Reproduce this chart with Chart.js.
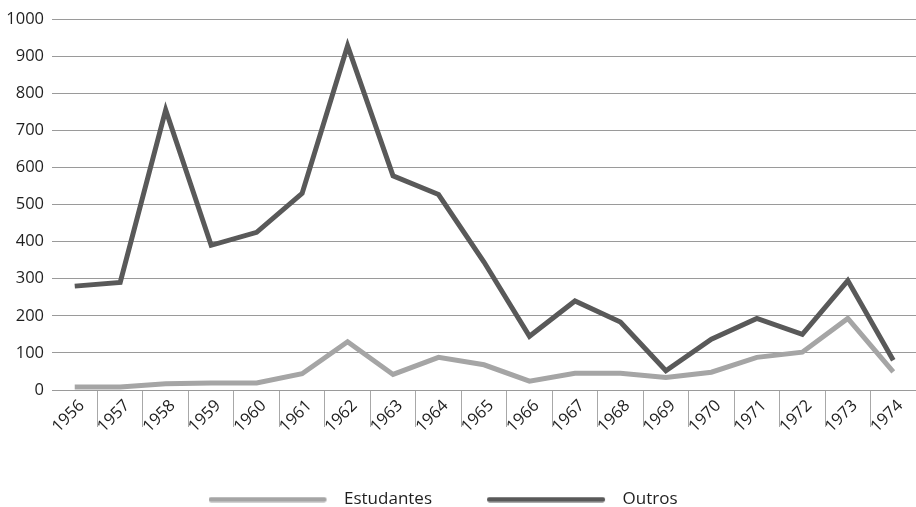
<!DOCTYPE html>
<html lang="pt">
<head>
<meta charset="UTF-8">
<title>Estudantes e Outros, 1956-1974</title>
<script src="https://cdn.jsdelivr.net/npm/chart.js"></script>
<style>
  html, body { margin: 0; padding: 0; background: #fff; }
  #wrap { width: 916px; height: 507px; position: relative; }
</style>
</head>
<body>
<div id="wrap"><canvas id="chart"></canvas></div>
<script>
// values
const years = ['1956', '1957', '1958', '1959', '1960', '1961', '1962', '1963', '1964', '1965',
               '1966', '1967', '1968', '1969', '1970', '1971', '1972', '1973', '1974'];
const estudantes = [8, 8, 17, 19, 19, 44, 130, 42, 88, 68, 24, 45, 45, 34, 48, 88, 102, 193, 49];
const outros = [280, 290, 755, 390, 425, 530, 928, 577, 527, 345, 145, 240, 183, 52, 137, 193, 150, 295, 80];
const yMin = 0;
const yMax = 1000;
const yStep = 100;

const lightGrey = '#a5a5a5';
const darkGrey = '#595959';

// legend sample: rounded bar with a bit of empty room after it
function legendLine(color) {
    const c = document.createElement('canvas');
    c.width = 127;
    c.height = 6;
    const g = c.getContext('2d');
    g.strokeStyle = color;
    g.lineWidth = 5;
    g.lineCap = 'round';
    g.beginPath();
    g.moveTo(2.5, 3);
    g.lineTo(115.5, 3);
    g.stroke();
    return c;
}

// the legend sits a bit left of centre in the original
const legendNudge = {
    id: 'legendNudge',
    afterLayout(chart) {
        const l = chart.legend;
        l.left -= 15; l.right -= 15;
    }
};

Chart.defaults.font.family = "'Open Sans', sans-serif";
Chart.defaults.color = '#1f1f1f';

new Chart(document.getElementById('chart'), {
    type: 'line',
    data: {
        labels: years,
        datasets: [
            {
                label: 'Estudantes',
                data: estudantes,
                borderColor: lightGrey,
                backgroundColor: lightGrey,
                borderWidth: 5,
                pointRadius: 0,
                pointStyle: legendLine(lightGrey),
                tension: 0,
                borderJoinStyle: 'miter'
            },
            {
                label: 'Outros',
                data: outros,
                borderColor: darkGrey,
                backgroundColor: darkGrey,
                borderWidth: 5,
                pointRadius: 0,
                pointStyle: legendLine(darkGrey),
                tension: 0,
                borderJoinStyle: 'miter'
            }
        ]
    },
    options: {
        responsive: true,
        maintainAspectRatio: false,
        animation: false,
        events: [],
        layout: { padding: { top: 19, left: 0, right: 0, bottom: -11 } },
        plugins: {
            legend: {
                position: 'bottom',
                labels: {
                    usePointStyle: true,
                    pointStyleWidth: 127,
                    padding: 55,
                    font: { size: 17 }
                }
            },
            tooltip: { enabled: false }
        },
        scales: {
            x: {
                offset: true,
                grid: {
                    offset: true,
                    drawOnChartArea: false,
                    tickLength: 37,
                    color: ctx => ctx.index === 0 ? 'rgba(0,0,0,0)' : '#a8a8a8'
                },
                border: { color: '#9a9a9a' },
                ticks: {
                    autoSkip: false,
                    minRotation: 45,
                    maxRotation: 45,
                    padding: -31,
                    labelOffset: 7,
                    font: { size: 16.5 }
                },
                afterFit: s => { s.height = 46; }
            },
            y: {
                min: yMin,
                max: yMax,
                ticks: {
                    stepSize: yStep,
                    padding: 8,
                    font: { size: 16.5 },
                    callback: v => String(v)
                },
                grid: { drawTicks: false, color: '#9a9a9a' },
                border: { display: false },
                afterFit: s => { s.width = 52; }
            }
        }
    },
    plugins: [legendNudge]
});
</script>
</body>
</html>
